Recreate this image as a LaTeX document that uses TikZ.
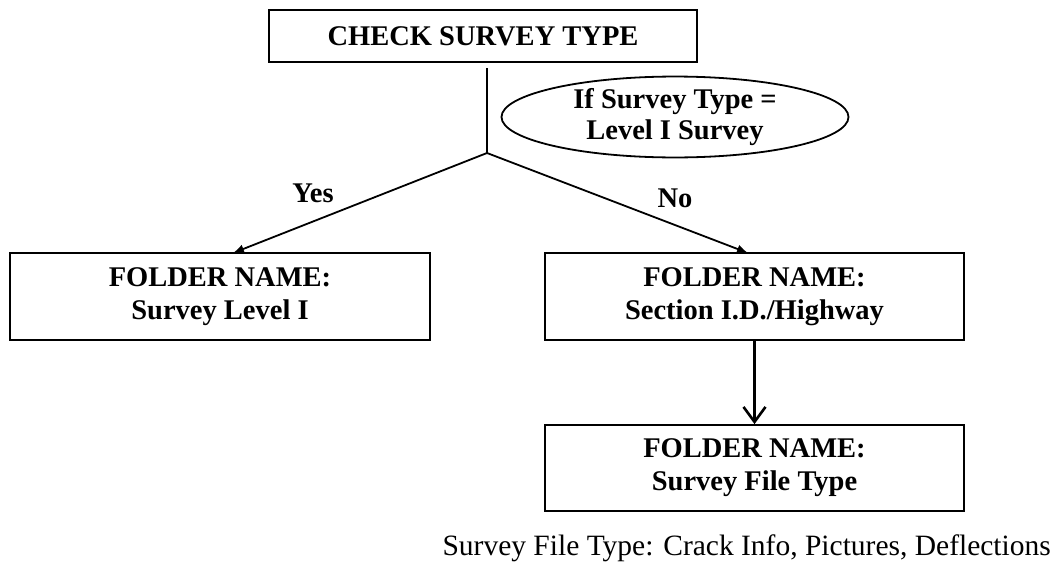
\documentclass[tikz,border=0pt]{standalone}
\usepackage{fontspec}
\setmainfont{Liberation Serif}
\usepackage{tikz}
\usetikzlibrary{arrows.meta}
\usetikzlibrary{shapes.geometric}
\usetikzlibrary{positioning}

\tikzset{
  folder/.style={draw, line width=1.8pt, rectangle, inner sep=0pt, align=center,
    font=\fontsize{28.5}{33}\selectfont\bfseries},
  cond/.style={draw, line width=1.8pt, ellipse, inner sep=0pt, align=center,
    minimum width=347pt, minimum height=72pt,
    font=\fontsize{28.5}{31}\selectfont\bfseries},
  branchlabel/.style={font=\fontsize{28.5}{31}\selectfont\bfseries},
  branch/.style={line width=1.8pt, -{Latex[length=11pt,width=9pt]}},
  stepdown/.style={line width=2.6pt, -{Straight Barb[length=15pt,width=22pt,line width=2.6pt]}}
}

\begin{document}
\begin{tikzpicture}[x=1pt,y=-1pt]
  \useasboundingbox (0,0) rectangle (1057,565);
  % top of the tree
  \node[folder, minimum width=428pt, minimum height=52pt] (check) at (483,36) {CHECK SURVEY TYPE};
  \node[cond] (test) at (675,117) {If Survey Type =\\Level I Survey};
  \coordinate (stem) at (487,68);
  \coordinate (fork) at (487,153);
  \draw[line width=1.8pt] (stem) -- (fork);
  % the two answers
  \node[folder, minimum width=420pt, minimum height=87pt] (level) at (220,296.5) {FOLDER NAME:\\Survey Level I};
  \node[folder, minimum width=419pt, minimum height=87pt] (section) at (754.5,296.5) {FOLDER NAME:\\Section I.D./Highway};
  \coordinate (yestip) at (233,253);
  \coordinate (notip) at (748,253);
  \draw[branch] (fork) -- (yestip);
  \draw[branch] (fork) -- (notip);
  \node[branchlabel] (yes) at (313,193) {Yes};
  \node[branchlabel] (no) at (675,198) {No};
  % file type level
  \node[folder, minimum width=419pt, minimum height=86pt] (filetype) at (754.5,468) {FOLDER NAME:\\Survey File Type};
  \draw[stepdown] (section.south) -- (filetype.north);
  \node[anchor=base east, inner sep=0pt, font=\fontsize{29.5}{32}\selectfont] (types) at (1051,555) {Survey File Type: Crack Info, Pictures, Deflections};
\end{tikzpicture}
\end{document}
